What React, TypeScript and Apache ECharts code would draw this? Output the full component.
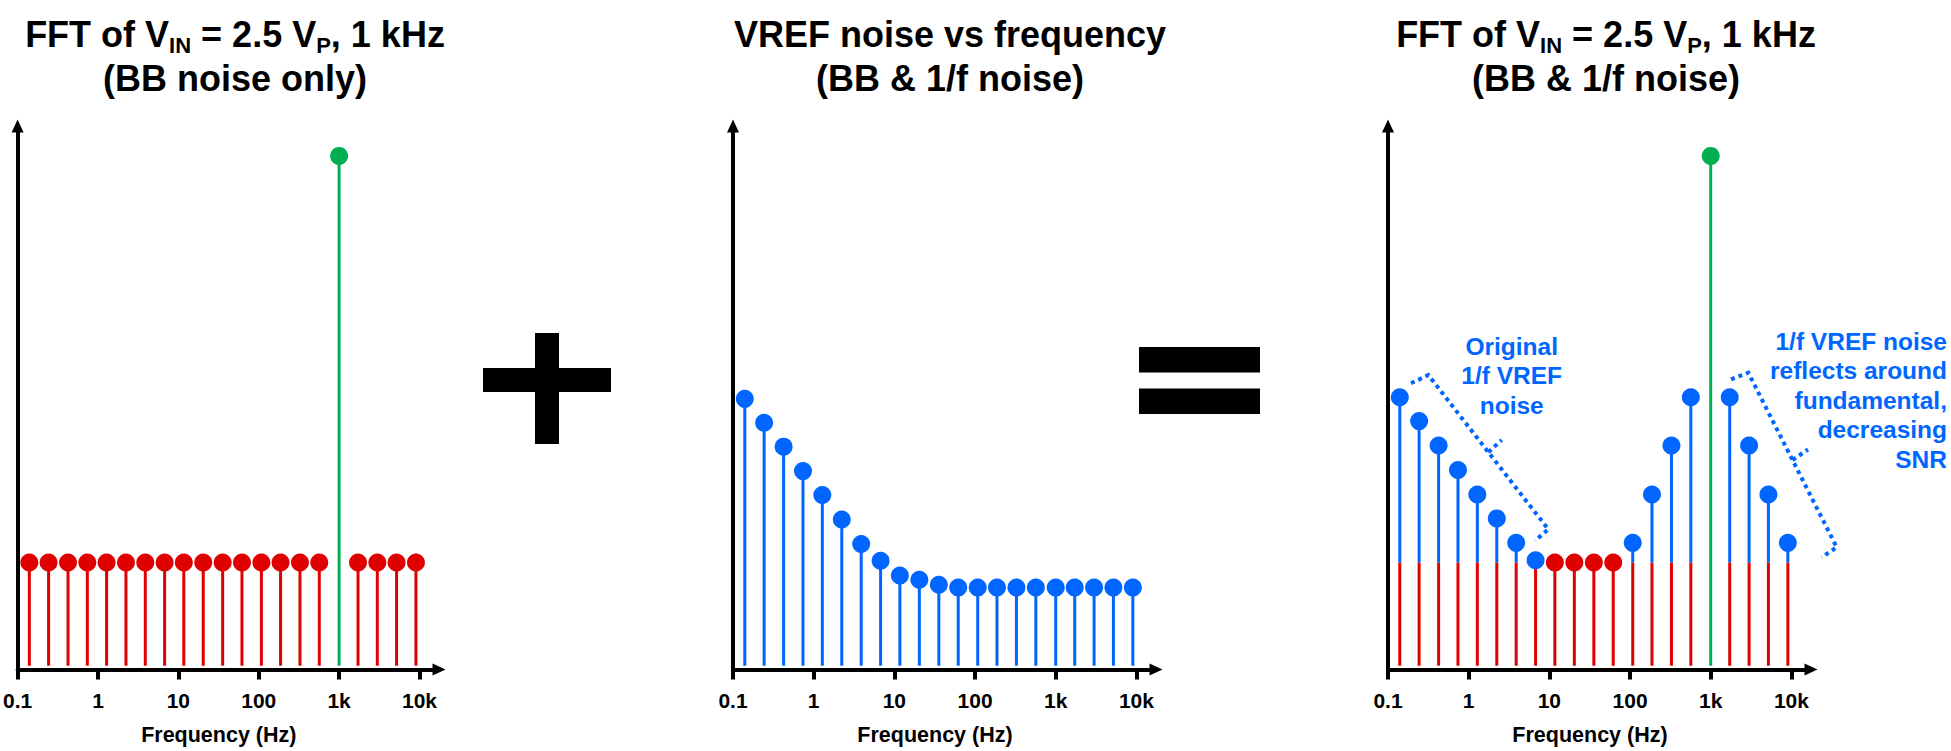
import React, { useEffect, useRef } from 'react';
import * as echarts from 'echarts';

// ---------- data ----------
const FREQ_HZ = [0.14, 0.243, 0.424, 0.737, 1.28, 2.23, 3.88, 6.75, 11.7, 20.4, 35.6, 61.9, 108, 187, 326, 567, 1000, 1720, 2990, 5190, 9040];
const FUNDAMENTAL_HZ = 1000;
const FUNDAMENTAL_AMP = 94.5;

// Panel 1: broadband noise only (null where the fundamental sits)
const BB_NOISE = [19.7, 19.7, 19.7, 19.7, 19.7, 19.7, 19.7, 19.7, 19.7, 19.7, 19.7, 19.7, 19.7, 19.7, 19.7, 19.7, null, 19.7, 19.7, 19.7, 19.7];

// Panel 2: VREF noise vs frequency
const VREF_NOISE = [49.8, 45.4, 41.0, 36.5, 32.1, 27.6, 23.1, 20.0, 17.3, 16.5, 15.6, 15.1, 15.1, 15.1, 15.1, 15.1, 15.1, 15.1, 15.1, 15.1, 15.1];

// Panel 3: BB floor plus original / reflected 1/f VREF noise
const FLOOR_NOISE = [19.7, 19.7, 19.7, 19.7, 19.7, 19.7, 19.7, 19.7, 19.7, 19.7, 19.7, 19.7, 19.7, 19.7, 19.7, 19.7, null, 19.7, 19.7, 19.7, 19.7];
const COMBINED_VREF = [50.1, 45.7, 41.2, 36.7, 32.2, 27.8, 23.3, 20.1, null, null, null, null, 23.3, 32.2, 41.2, 50.1, null, 50.1, 41.2, 32.2, 23.3];

const TICK_FREQS = [0.1, 1, 10, 100, 1000, 10000];
const TICK_LABELS = ['0.1', '1', '10', '100', '1k', '10k'];
const X_MIN_HZ = 0.1;
const X_MAX_HZ = 17500;
const Y_MAX = 100;

const TITLES = [
  '{m|FFT of V}{s|IN}{m| = 2.5 V}{s|P}{m|, 1 kHz}\n{m|(BB noise only)}',
  '{m|VREF noise vs frequency}\n{m|(BB & 1/f noise)}',
  '{m|FFT of V}{s|IN}{m| = 2.5 V}{s|P}{m|, 1 kHz}\n{m|(BB & 1/f noise)}',
];
const NOTE_ORIGINAL = 'Original\n1/f VREF\nnoise';
const NOTE_REFLECT = '1/f VREF noise\nreflects around\nfundamental,\ndecreasing\nSNR';
const AXIS_NAME = 'Frequency (Hz)';

// ---------- style ----------
const FONT = '"Liberation Sans", Arial, Helvetica, sans-serif';
const RED = '#DF0000';
const BLUE = '#0066FF';
const GREEN = '#00B050';
const STEM_BASE = 0.7;
const DOT_R = 9;
const AXIS_W = 4;

const lg = (v: number) => Math.round(Math.log10(v) * 1e6) / 1e6;
const TICK_POS = TICK_FREQS.map(lg);

const GRIDS = [
  { left: 16, top: 126, width: 423, height: 546 },
  { left: 733, top: 126, width: 423, height: 546 },
  { left: 1388, top: 126, width: 423, height: 546 },
];
const TITLE_X = [235, 950, 1606];

function stemSeries(gridIndex: number, data: number[][], color: string) {
  return {
    type: 'custom',
    coordinateSystem: 'cartesian2d',
    xAxisIndex: gridIndex,
    yAxisIndex: gridIndex,
    silent: true,
    encode: { x: 0, y: [1, 2] },
    data,
    renderItem: (_params: any, api: any) => {
      const x = api.value(0);
      const p0 = api.coord([x, api.value(1)]);
      const p1 = api.coord([x, api.value(2)]);
      const children: any[] = [
        { type: 'line', shape: { x1: p0[0], y1: p0[1], x2: p1[0], y2: p1[1] }, style: { stroke: color, lineWidth: 3 } },
      ];
      if (api.value(3) === 1) {
        children.push({ type: 'circle', shape: { cx: p1[0], cy: p1[1], r: DOT_R }, style: { fill: color, stroke: 'none' } });
      }
      return { type: 'group', children };
    },
  };
}

function xAxisFor(gridIndex: number) {
  return {
    type: 'value',
    gridIndex,
    min: lg(X_MIN_HZ),
    max: lg(X_MAX_HZ),
    name: AXIS_NAME,
    nameLocation: 'middle',
    nameGap: 55,
    nameTextStyle: { fontFamily: FONT, fontWeight: 'bold', fontSize: 21.5, color: '#000', lineHeight: 21, padding: [0, 19, 0, 0] },
    axisLine: { show: true, onZero: false, symbol: ['none', 'triangle'], symbolSize: [12, 13], lineStyle: { color: '#000', width: AXIS_W } },
    axisTick: { show: true, length: 10, customValues: TICK_POS, lineStyle: { color: '#000', width: AXIS_W } },
    axisLabel: {
      show: true,
      margin: 20,
      customValues: TICK_POS,
      fontFamily: FONT,
      fontWeight: 'bold',
      fontSize: 21,
      color: '#000',
      formatter: (v: number) => {
        let best = 0;
        TICK_POS.forEach((p, i) => { if (Math.abs(p - v) < Math.abs(TICK_POS[best] - v)) best = i; });
        return Math.abs(TICK_POS[best] - v) < 1e-3 ? TICK_LABELS[best] : '';
      },
    },
    splitLine: { show: false },
  };
}

function yAxisFor(gridIndex: number) {
  return {
    type: 'value',
    gridIndex,
    min: 0,
    max: Y_MAX,
    position: 'left',
    axisLine: { show: true, onZero: false, symbol: ['none', 'triangle'], symbolSize: [12, 13], lineStyle: { color: '#000', width: AXIS_W } },
    axisTick: { show: false },
    axisLabel: { show: false },
    splitLine: { show: false },
  };
}

function buildOption() {
  // Panel 1
  const p1Red = FREQ_HZ.map((f, i) => BB_NOISE[i] == null ? null : [lg(f), STEM_BASE, BB_NOISE[i] as number, 1]).filter(Boolean) as number[][];
  const p1Green = [[lg(FUNDAMENTAL_HZ), STEM_BASE, FUNDAMENTAL_AMP, 1]];
  // Panel 2
  const p2Blue = FREQ_HZ.map((f, i) => [lg(f), STEM_BASE, VREF_NOISE[i], 1]);
  // Panel 3
  const p3Red = FREQ_HZ.map((f, i) => FLOOR_NOISE[i] == null ? null : [lg(f), STEM_BASE, FLOOR_NOISE[i] as number, COMBINED_VREF[i] == null ? 1 : 0]).filter(Boolean) as number[][];
  const p3Blue = FREQ_HZ.map((f, i) => COMBINED_VREF[i] == null || FLOOR_NOISE[i] == null ? null : [lg(f), FLOOR_NOISE[i] as number, COMBINED_VREF[i] as number, 1]).filter(Boolean) as number[][];
  const p3Green = [[lg(FUNDAMENTAL_HZ), STEM_BASE, FUNDAMENTAL_AMP, 1]];

  const titleRich = {
    m: { fontFamily: FONT, fontWeight: 'bold', fontSize: 36, lineHeight: 43.5, color: '#000' },
    s: { fontFamily: FONT, fontWeight: 'bold', fontSize: 22, lineHeight: 22, color: '#000', verticalAlign: 'bottom' },
  };

  const dotted = { stroke: BLUE, lineWidth: 4, lineDash: [4, 4], fill: null };

  return {
    animation: false,
    backgroundColor: '#fff',
    title: TITLES.map((t, i) => ({
      text: t,
      left: TITLE_X[i],
      top: 13,
      textAlign: 'center',
      padding: 0,
      textStyle: { rich: titleRich, fontFamily: FONT, fontWeight: 'bold', fontSize: 36, lineHeight: 43.5 },
    })),
    grid: GRIDS,
    xAxis: [0, 1, 2].map(xAxisFor),
    yAxis: [0, 1, 2].map(yAxisFor),
    series: [
      stemSeries(0, p1Red, RED),
      stemSeries(0, p1Green, GREEN),
      stemSeries(1, p2Blue, BLUE),
      stemSeries(2, p3Red, RED),
      stemSeries(2, p3Blue, BLUE),
      stemSeries(2, p3Green, GREEN),
    ],
    graphic: [
      // plus sign
      { type: 'rect', shape: { x: 483, y: 368, width: 128, height: 24 }, style: { fill: '#000' } },
      { type: 'rect', shape: { x: 535, y: 333, width: 24, height: 111 }, style: { fill: '#000' } },
      // equals sign
      { type: 'rect', shape: { x: 1139, y: 347, width: 121, height: 25.5 }, style: { fill: '#000' } },
      { type: 'rect', shape: { x: 1139, y: 388.5, width: 121, height: 25.5 }, style: { fill: '#000' } },
      // annotations
      {
        type: 'text', x: 1511.7, y: 331.5,
        style: { text: NOTE_ORIGINAL, align: 'center', verticalAlign: 'top', fontFamily: FONT, fontWeight: 'bold', fontSize: 24.5, lineHeight: 29.5, fill: BLUE },
      },
      {
        type: 'text', x: 1947, y: 326.5,
        style: { text: NOTE_REFLECT, align: 'right', verticalAlign: 'top', fontFamily: FONT, fontWeight: 'bold', fontSize: 24.5, lineHeight: 29.5, fill: BLUE },
      },
      { type: 'polyline', shape: { points: [[1411, 383.3], [1428.3, 375], [1548.3, 529.3], [1535, 540.7]] }, style: dotted },
      { type: 'polyline', shape: { points: [[1488.3, 452.2], [1501.7, 440]] }, style: dotted },
      { type: 'polyline', shape: { points: [[1731, 379.3], [1748.3, 372.7], [1836.7, 547.3], [1821.7, 557.3]] }, style: dotted },
      { type: 'polyline', shape: { points: [[1792.5, 460], [1808, 449.5]] }, style: dotted },
    ],
  };
}

export default function App() {
  const ref = useRef<HTMLDivElement>(null);
  useEffect(() => {
    if (!ref.current) return;
    const chart = echarts.init(ref.current, undefined, { renderer: 'svg' });
    chart.setOption(buildOption() as any);
    return () => chart.dispose();
  }, []);
  return <div ref={ref} style={{ position: 'fixed', left: 0, top: 0, width: 1951, height: 751, background: '#fff' }} />;
}
